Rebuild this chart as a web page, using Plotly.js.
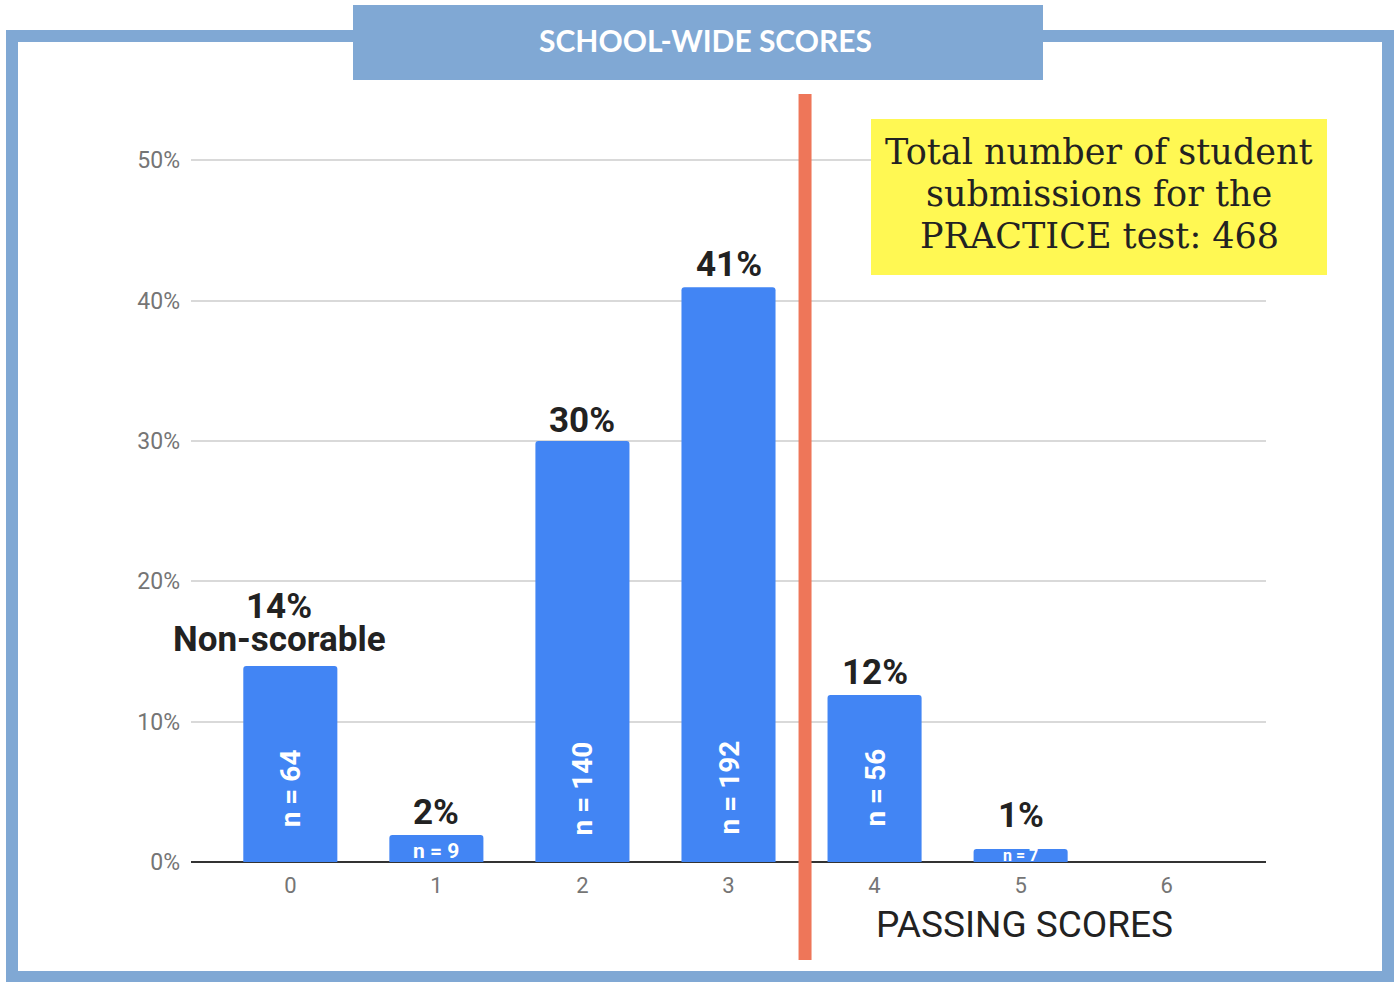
<!DOCTYPE html>
<html>
<head>
<meta charset="utf-8">
<script src="https://cdn.plot.ly/plotly-3.0.1.min.js"></script>
<style>
  html, body { margin: 0; padding: 0; background: #ffffff; }
  #chart { width: 1395px; height: 982px; }
</style>
</head>
<body>
<div id="chart"></div>
<script>
// ---- data ----
const scores = [0, 1, 2, 3, 4, 5, 6];
const percents = [13.96, 1.92, 29.99, 40.95, 11.9, 0.93, null];
const pctLabels = ["14%", "2%", "30%", "41%", "12%", "1%", ""];
const countLabels = ["n = 64", "n = 9", "n = 140", "n = 192", "n = 56", "n = 7", ""];
const yTickVals = [0, 10, 20, 30, 40, 50];
const yTickText = ["0%", "10%", "20%", "30%", "40%", "50%"];
const titleText = "SCHOOL-WIDE SCORES";
const noteLines = ["Total number of student", "submissions for the", "PRACTICE test: 468"];
const passingText = "PASSING SCORES";
const nonScorableText = "Non-scorable";
const passingCutoff = 3.524;

// ---- layout helpers (pixel -> paper) ----
const W = 1395, H = 982;
const M = {l: 191, r: 129, t: 90, b: 120};
const pw = W - M.l - M.r, ph = H - M.t - M.b;
const px = v => (v - M.l) / pw;
const py = v => (H - M.b - v) / ph;

const barColor = "#4285F4";
const frameColor = "#80A8D4";
const darkText = "#222222";

const trace = {
  type: "bar",
  x: scores,
  y: percents,
  marker: {color: barColor, cornerradius: 3},
  hoverinfo: "skip"
};

const annotations = [];
// percent labels above bars
const pctShift = [37, 0, -2, 0, 0, 11, 0];
const pctXShift = [-11, 0, 0, 0, 0, 0, 0];
scores.forEach((s, i) => {
  if (percents[i] === null) return;
  annotations.push({
    x: s, y: percents[i], xref: "x", yref: "y",
    text: "<b>" + pctLabels[i] + "</b>",
    showarrow: false, xanchor: "center", yanchor: "bottom",
    yshift: pctShift[i], xshift: pctXShift[i],
    font: {family: "Roboto", size: 35, color: darkText}
  });
});
// non-scorable label
annotations.push({
  x: scores[0], y: percents[0], xref: "x", yref: "y",
  text: "<b>" + nonScorableText + "</b>",
  showarrow: false, xanchor: "center", yanchor: "bottom", yshift: 4, xshift: -11,
  font: {family: "Roboto", size: 35, color: darkText}
});
// count labels inside bars
scores.forEach((s, i) => {
  if (!countLabels[i]) return;
  const tall = percents[i] > 5;
  const mid = percents[i] > 1.5;
  annotations.push({
    x: s, y: 0, xref: "x", yref: "y",
    text: "<b>" + countLabels[i] + "</b>",
    showarrow: false, xanchor: "center", yanchor: "middle",
    textangle: tall ? -90 : 0,
    yshift: tall ? 74 : (mid ? 11 : 7),
    font: {family: "Roboto", size: tall ? 28 : (mid ? 21 : 16), color: "#ffffff"}
  });
});
// passing scores label
annotations.push({
  x: px(1024), y: py(924), xref: "paper", yref: "paper",
  text: passingText, showarrow: false, xanchor: "center", yanchor: "middle",
  font: {family: "Roboto", size: 37, color: darkText}
});
// title text
annotations.push({
  x: px(705), y: py(40), xref: "paper", yref: "paper",
  text: "<b>" + titleText + "</b>", showarrow: false, xanchor: "center", yanchor: "middle",
  font: {family: "Lato", size: 30, color: "#ffffff"}
});
// note text, one annotation per line
noteLines.forEach((line, i) => {
  annotations.push({
    x: px(1099), y: py(152 + 42 * i), xref: "paper", yref: "paper",
    text: line, showarrow: false, xanchor: "center", yanchor: "middle",
    font: {family: "DejaVu Serif", size: 35, color: darkText}
  });
});

const shapes = [
  // outer frame
  {type: "rect", xref: "paper", yref: "paper", layer: "above",
   x0: px(12), x1: px(1388), y0: py(36), y1: py(977),
   line: {color: frameColor, width: 12}, fillcolor: "rgba(0,0,0,0)"},
  // title box
  {type: "rect", xref: "paper", yref: "paper", layer: "above",
   x0: px(353), x1: px(1043), y0: py(5), y1: py(80),
   line: {width: 0}, fillcolor: frameColor},
  // note box
  {type: "rect", xref: "paper", yref: "paper", layer: "above",
   x0: px(871), x1: px(1327), y0: py(119), y1: py(275),
   line: {width: 0}, fillcolor: "#FFF853"},
  // passing cutoff line
  {type: "line", xref: "x", yref: "paper", layer: "above",
   x0: passingCutoff, x1: passingCutoff, y0: py(94), y1: py(960),
   line: {color: "#EE7659", width: 13}}
];

const layout = {
  width: W, height: H, autosize: false,
  margin: M,
  paper_bgcolor: "#ffffff", plot_bgcolor: "#ffffff",
  showlegend: false,
  bargap: 0.356,
  font: {family: "Roboto", color: "#757575"},
  xaxis: {
    range: [-0.68, 6.68], tickvals: scores, ticktext: scores.map(String),
    showgrid: false, zeroline: false, showline: false, ticks: "",
    ticklabelstandoff: 8,
    tickfont: {family: "Roboto", size: 22, color: "#757575"},
    fixedrange: true
  },
  yaxis: {
    range: [0, 55], tickvals: yTickVals, ticktext: yTickText,
    showgrid: true, gridcolor: "#d9d9d9", gridwidth: 2,
    zeroline: true, zerolinecolor: "#333333", zerolinewidth: 2,
    showline: false, ticks: "", ticklabelstandoff: 10,
    tickfont: {family: "Roboto", size: 23, color: "#757575"},
    fixedrange: true
  },
  annotations: annotations,
  shapes: shapes
};

Plotly.newPlot("chart", [trace], layout, {displayModeBar: false, staticPlot: true});
</script>
</body>
</html>
